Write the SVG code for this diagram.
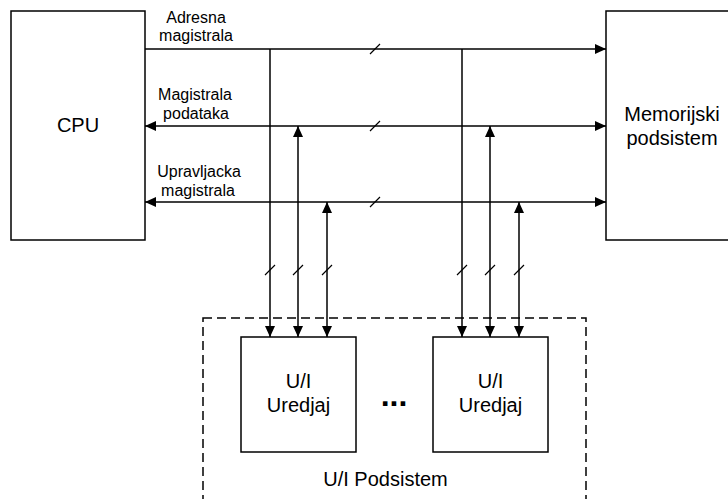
<svg xmlns="http://www.w3.org/2000/svg" width="728" height="499" viewBox="0 0 728 499">
<defs>
<style>
.box{fill:#fff;stroke:#000;stroke-width:1.5}
.ln{stroke:#000;stroke-width:1.5;fill:none}
.sl{stroke:#000;stroke-width:1.2;fill:none}
.t{font-family:"Liberation Sans",Arial,sans-serif;fill:#000;text-anchor:middle}
.lbl{font-size:16px}
.nd{font-size:20px}
</style>
<marker id="ah" viewBox="0 0 11 10" refX="11" refY="5" markerWidth="11" markerHeight="10" markerUnits="userSpaceOnUse" orient="auto-start-reverse">
<path d="M0,0 L11,5 L0,10 Z" fill="#000"/>
</marker>
</defs>
<rect width="728" height="499" fill="#fff"/>
<g id="cpu">
<rect class="box" x="11" y="11" width="134" height="229"/>
<text class="t nd" x="78" y="132">CPU</text>
</g>
<g id="mem">
<rect class="box" x="606" y="11" width="130" height="229"/>
<text class="t nd" x="672" y="121">Memorijski</text>
<text class="t nd" x="672" y="145">podsistem</text>
</g>
<g id="io-sub">
<rect x="203" y="318" width="383" height="200" fill="none" stroke="#000" stroke-width="1.5" stroke-dasharray="9,5"/>
<text class="t nd" x="385.5" y="486">U/I Podsistem</text>
</g>
<g id="io1">
<rect class="box" x="241" y="337" width="115" height="115"/>
<text class="t nd" x="298.5" y="388">U/I</text>
<text class="t nd" x="298.5" y="412">Uredjaj</text>
</g>
<g id="io2">
<rect class="box" x="433" y="337" width="115" height="115"/>
<text class="t nd" x="490.5" y="388">U/I</text>
<text class="t nd" x="490.5" y="412">Uredjaj</text>
</g>
<g id="dots">
<text class="t" x="394" y="406" font-size="32" font-weight="bold">...</text>
</g>
<g id="connectors">
<line class="ln" x1="145" y1="49" x2="606" y2="49" marker-end="url(#ah)"/>
<line class="ln" x1="145" y1="126" x2="606" y2="126" marker-start="url(#ah)" marker-end="url(#ah)"/>
<line class="ln" x1="145" y1="202" x2="606" y2="202" marker-start="url(#ah)" marker-end="url(#ah)"/>
<line class="ln" x1="270" y1="49" x2="270" y2="337" marker-end="url(#ah)"/>
<line class="ln" x1="298" y1="126" x2="298" y2="337" marker-start="url(#ah)" marker-end="url(#ah)"/>
<line class="ln" x1="327" y1="202" x2="327" y2="337" marker-start="url(#ah)" marker-end="url(#ah)"/>
<line class="ln" x1="462" y1="49" x2="462" y2="337" marker-end="url(#ah)"/>
<line class="ln" x1="490" y1="126" x2="490" y2="337" marker-start="url(#ah)" marker-end="url(#ah)"/>
<line class="ln" x1="519" y1="202" x2="519" y2="337" marker-start="url(#ah)" marker-end="url(#ah)"/>
<path class="sl" d="M370,54 L380,44 M370,131 L380,121 M370,207 L380,197"/>
<path class="sl" d="M265,275 L275,265 M293,275 L303,265 M322,275 L332,265 M457,275 L467,265 M485,275 L495,265 M514,275 L524,265"/>
<text class="t lbl" x="196" y="23">Adresna</text>
<text class="t lbl" x="196" y="41">magistrala</text>
<text class="t lbl" x="195" y="100">Magistrala</text>
<text class="t lbl" x="196" y="119">podataka</text>
<text class="t lbl" x="199" y="177">Upravljacka</text>
<text class="t lbl" x="198" y="196">magistrala</text>
</g>
</svg>
